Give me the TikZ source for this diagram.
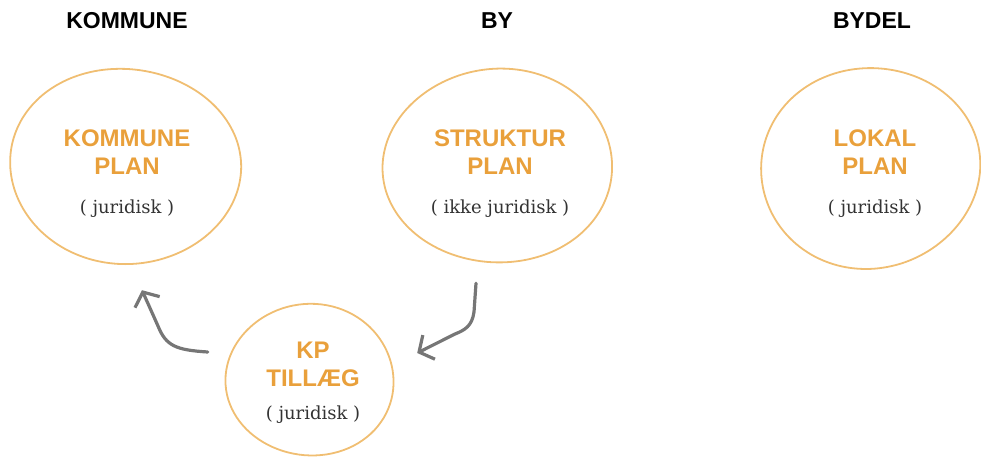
\documentclass[tikz,border=0pt]{standalone}
\usepackage{fontspec}
\setmainfont{DejaVu Serif}
\setsansfont{Liberation Sans}
\usetikzlibrary{shapes.geometric,arrows.meta,calc}
\definecolor{planorange}{HTML}{E9A03B}
\definecolor{ringorange}{HTML}{F0BE72}
\definecolor{arrowgrey}{HTML}{767676}
\definecolor{textgrey}{HTML}{333333}
\tikzset{
  ring/.style={ellipse, inner sep=0pt},
  ringline/.style={draw=ringorange, line width=1.8pt},
  plantext/.style={font=\sffamily\bfseries\fontsize{24}{28}\selectfont, text=planorange, align=center},
  subtext/.style={font=\fontsize{18}{20}\selectfont, text=textgrey},
  heading/.style={font=\sffamily\bfseries\fontsize{23}{26}\selectfont, text=black},
  flow/.style={draw=arrowgrey, line width=3.2pt, line cap=round, line join=round,
    -{Straight Barb[length=11pt,width=27pt,line width=3.2pt]}}
}
% wobbly ring: cx, cy, rx, ry, phase
\newcommand{\wobring}[5]{%
  \draw[ringline] plot[smooth cycle, tension=0.6, variable=\t, samples at={0,15,...,345}]
    ({#1 + #3*cos(\t)*(1+0.012*sin(2*\t+#5)+0.008*cos(3*\t+2*#5))},
     {#2 + #4*sin(\t)*(1+0.012*sin(2*\t+#5)+0.008*cos(3*\t+2*#5))});}
\begin{document}
\begin{tikzpicture}[x=1pt,y=-1pt]
\useasboundingbox (0,0) rectangle (981,457);
% headings
\node[heading] (hk) at (127,21) {KOMMUNE};
\node[heading] (hb) at (497,21) {BY};
\node[heading] (hd) at (872,21) {BYDEL};
% circles (named nodes + hand-drawn outlines)
\node[ring, minimum width=230pt, minimum height=196pt] (kp) at (125,166) {};
\node[ring, minimum width=227pt, minimum height=196pt] (sp) at (498,166) {};
\node[ring, minimum width=220pt, minimum height=200pt] (lp) at (870,168) {};
\node[ring, minimum width=170pt, minimum height=150pt] (tp) at (310,380) {};
\wobring{125}{166}{115}{98}{20}
\wobring{498}{166}{113.5}{98}{110}
\wobring{870}{168}{110}{100}{200}
\wobring{310}{380}{85}{75}{290}
% texts
\node[plantext] (kpt) at (127,152) {KOMMUNE\\PLAN};
\node[subtext] (kps) at (127,209) {( juridisk )};
\node[plantext] (spt) at (500,152) {STRUKTUR\\PLAN};
\node[subtext] (sps) at (500,209) {( ikke juridisk )};
\node[plantext] (lpt) at (875,152) {LOKAL\\PLAN};
\node[subtext] (lps) at (875,209) {( juridisk )};
\node[plantext] (tpt) at (313,364) {KP\\TILLÆG};
\node[subtext] (tps) at (313,415) {( juridisk )};
% arrows
\coordinate (a1s) at ($(tp.west)+(-17,-28)$);
\coordinate (a1e) at ($(kp.south)+(17,26)$);
\draw[flow] (a1s) .. controls (176,350) and (166,346) .. (158,326) -- (a1e);
\coordinate (a2s) at ($(sp.south)+(-22,19)$);
\coordinate (a2e) at ($(tp.east)+(22,-27)$);
\draw[flow] (a2s) -- (474,312) .. controls (472,326) and (465,330) .. (455,334) -- (a2e);
\end{tikzpicture}
\end{document}
